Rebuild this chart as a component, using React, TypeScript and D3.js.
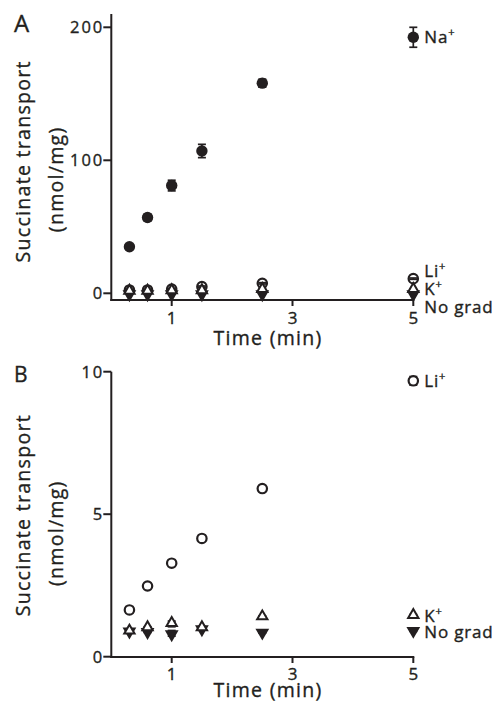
import React from "react";
import * as d3 from "d3";

const times = [0.3, 0.6, 1, 1.5, 2.5, 5];
const xTicks = [1, 3, 5];

// Panel A
const naA = [35, 57, 81, 107, 158, 192.5];
const naAErr = [1.5, 2.5, 4, 5, 3, 7.5];
const liA = [2.5, 2.5, 3.2, 5, 7.5, 11];
const liAErr = [0.5, 0.5, 0.5, 0.5, 0.5, 0.5];
const kA = [1.2, 1.2, 1.5, 1.5, 2.5, 2.5];
const noGradA = [0, 0, 0, 0, 0, 0];
const yTicksA = [0, 100, 200];

// Panel B
const liB = [1.64, 2.48, 3.28, 4.15, 5.9, 9.68];
const liBErr = [0.1, 0.05, 0.05, 0.05, 0.05, 0.15];
const kB = [0.88, 1.0, 1.15, 1.0, 1.38, 1.43];
const kBErr = [0.05, 0.05, 0.1, 0.05, 0.05, 0.05];
const noGradB = [0.92, 0.9, 0.82, 1.0, 0.88, 0.94];
const noGradBErr = [0.05, 0.05, 0.1, 0.05, 0.05, 0.05];
const yTicksB = [0, 5, 10];

const FONT = "'Open Sans', sans-serif";
const INK = "#231f20";
const TXT = { stroke: INK, strokeWidth: 0.35 };

const x = d3.scaleLinear().domain([0, 5]).range([111.3, 413.3]);
const yA = d3.scaleLinear().domain([0, 200]).range([293.3, 27.3]);
const yB = d3.scaleLinear().domain([0, 10]).range([656.7, 371.7]);

const triUp = d3.symbol().type(d3.symbolTriangle).size(46)()!;

function Tri({ cx, cy, down, filled }: { cx: number; cy: number; down?: boolean; filled?: boolean }) {
  return (
    <path
      d={triUp}
      transform={`translate(${cx},${cy + (down ? 1 : -1)}) rotate(${down ? 180 : 0})`}
      fill={filled ? INK : "#fff"}
      stroke={INK}
      strokeWidth={2}
      strokeLinejoin="miter"
    />
  );
}

function ErrBars({ vals, errs, y }: { vals: number[]; errs: number[]; y: d3.ScaleLinear<number, number> }) {
  return (
    <g stroke={INK} strokeWidth={1.7}>
      {vals.map((v, i) => (
        <g key={i}>
          <line x1={x(times[i])} x2={x(times[i])} y1={y(v - errs[i])} y2={y(v + errs[i])} />
          <line x1={x(times[i]) - 4} x2={x(times[i]) + 4} y1={y(v - errs[i])} y2={y(v - errs[i])} />
          <line x1={x(times[i]) - 4} x2={x(times[i]) + 4} y1={y(v + errs[i])} y2={y(v + errs[i])} />
        </g>
      ))}
    </g>
  );
}

function Axes({
  y,
  yTicks,
  xAxisY,
  yTop,
  xLabelY,
  tickLabelY,
  letter,
  letterY,
  letterSize,
}: {
  y: d3.ScaleLinear<number, number>;
  yTicks: number[];
  xAxisY: number;
  yTop: number;
  xLabelY: number;
  tickLabelY: number;
  letter: string;
  letterY: number;
  letterSize: number;
}) {
  const x0 = x(0);
  const yMid = (y(yTicks[0]) + y(yTicks[yTicks.length - 1])) / 2 + 1;
  return (
    <g fontFamily={FONT} fill={INK}>
      <line x1={x0} x2={x0} y1={yTop} y2={xAxisY + 1} stroke={INK} strokeWidth={2} />
      <line x1={x0 - 1} x2={x(5) + 1} y1={xAxisY} y2={xAxisY} stroke={INK} strokeWidth={2} />
      {yTicks.map((t) => (
        <g key={t}>
          <line x1={x0 - 8} x2={x0} y1={y(t)} y2={y(t)} stroke={INK} strokeWidth={2} />
          <text x={x0 - 7} y={y(t)} dy="0.36em" textAnchor="end" fontSize={16.5} letterSpacing={2} {...TXT}>
            {t}
          </text>
        </g>
      ))}
      {xTicks.map((t) => (
        <g key={t}>
          <line x1={x(t)} x2={x(t)} y1={xAxisY} y2={xAxisY + 6} stroke={INK} strokeWidth={2} />
          <text x={x(t)} y={tickLabelY} textAnchor="middle" fontSize={17} {...TXT}>
            {t}
          </text>
        </g>
      ))}
      <text x={268} y={xLabelY} textAnchor="middle" fontSize={19.5} letterSpacing={1.3} {...TXT}>
        Time (min)
      </text>
      <g transform={`translate(30,${yMid}) rotate(-90)`}>
        <text textAnchor="middle" fontSize={19.5} letterSpacing={1.3} {...TXT}>
          Succinate transport
        </text>
      </g>
      <g transform={`translate(63,${yMid + 18}) rotate(-90)`}>
        <text textAnchor="middle" fontSize={19.5} letterSpacing={1.3} {...TXT}>
          (nmol/mg)
        </text>
      </g>
      <text x={14} y={letterY} fontSize={letterSize} {...TXT}>
        {letter}
      </text>
    </g>
  );
}

function Label({ xPos, yPos, main, sup }: { xPos: number; yPos: number; main: string; sup?: boolean }) {
  return (
    <text x={xPos} y={yPos} fontFamily={FONT} fontSize={17} letterSpacing={0.8} fill={INK} {...TXT}>
      {main}
      {sup && (
        <tspan fontSize={11} dy={-7}>
          +
        </tspan>
      )}
    </text>
  );
}

export default function App() {
  const lx = x(5) + 11;
  return (
    <svg width={502} height={706} style={{ position: "absolute", left: 0, top: 0, background: "#fff" }}>
      <rect width={502} height={706} fill="#fff" />
      {/* Panel A */}
      <Axes y={yA} yTicks={yTicksA} xAxisY={300} yTop={14} xLabelY={345} tickLabelY={324} letter="A" letterY={32} letterSize={24} />
      <ErrBars vals={naA} errs={naAErr} y={yA} />
      {naA.map((v, i) => (
        <circle key={"na" + i} cx={x(times[i])} cy={yA(v)} r={5.7} fill={INK} />
      ))}
      <ErrBars vals={liA} errs={liAErr} y={yA} />
      {liA.map((v, i) => (
        <circle key={"liA" + i} cx={x(times[i])} cy={yA(v)} r={4.7} fill="none" stroke={INK} strokeWidth={2.2} />
      ))}
      {noGradA.map((v, i) => (
        <Tri key={"ngA" + i} cx={x(times[i])} cy={yA(v)} down filled />
      ))}
      {kA.map((v, i) => (
        <Tri key={"kA" + i} cx={x(times[i])} cy={yA(v)} />
      ))}
      <Label xPos={lx} yPos={43} main="Na" sup />
      <Label xPos={lx} yPos={277} main="Li" sup />
      <Label xPos={lx} yPos={295} main="K" sup />
      <Label xPos={lx} yPos={313} main="No grad" />

      {/* Panel B */}
      <Axes y={yB} yTicks={yTicksB} xAxisY={657} yTop={371.7} xLabelY={697} tickLabelY={680} letter="B" letterY={382} letterSize={21} />
      <ErrBars vals={liB} errs={liBErr} y={yB} />
      {liB.map((v, i) => (
        <circle key={"liB" + i} cx={x(times[i])} cy={yB(v)} r={4.7} fill="#fff" stroke={INK} strokeWidth={2.2} />
      ))}
      <ErrBars vals={noGradB} errs={noGradBErr} y={yB} />
      {noGradB.map((v, i) => (
        <Tri key={"ngB" + i} cx={x(times[i])} cy={yB(v)} down filled />
      ))}
      <ErrBars vals={kB} errs={kBErr} y={yB} />
      {kB.map((v, i) => (
        <Tri key={"kB" + i} cx={x(times[i])} cy={yB(v)} />
      ))}
      <Label xPos={lx} yPos={387} main="Li" sup />
      <Label xPos={lx} yPos={622} main="K" sup />
      <Label xPos={lx} yPos={638} main="No grad" />
    </svg>
  );
}
